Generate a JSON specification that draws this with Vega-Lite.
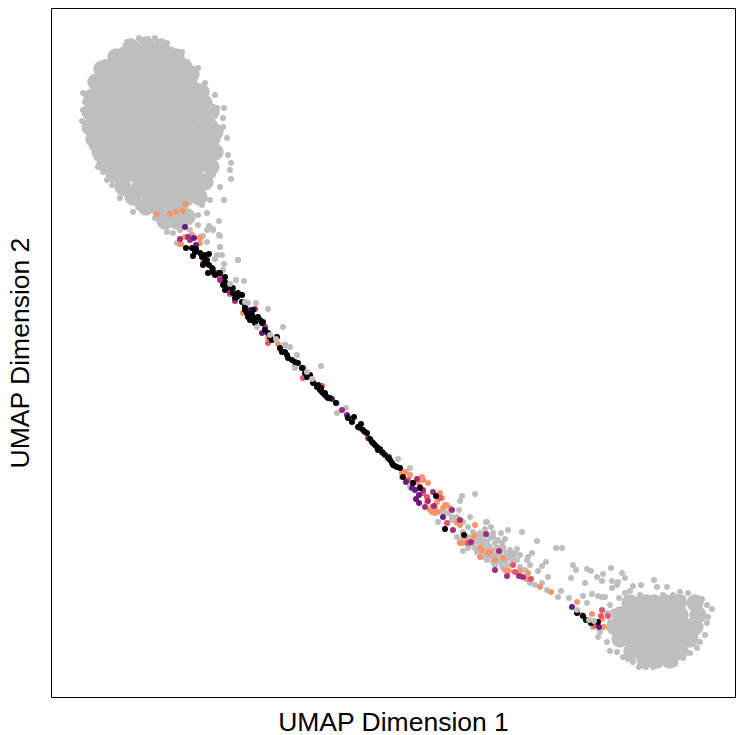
{"$schema":"https://vega.github.io/schema/vega-lite/v6.json","width":684,"height":689,"autosize":"none","padding":{"left":51,"top":8,"right":1,"bottom":38},"background":"white","config":{"view":{"stroke":"black","strokeWidth":1},"font":"Liberation Sans"},
"datasets":{"core":[
{"x":8.0,"y":65.0},{"x":9.5,"y":65.2},{"x":11.0,"y":65.0},{"x":6.5,"y":64.0},{"x":12.5,"y":64.0},{"x":3.9,"y":58.5},{"x":3.9,"y":57.0},{"x":4.1,"y":60.0},{"x":4.3,"y":55.8},{"x":4.5,"y":61.5},{"x":5.1,"y":62.8},{"x":4.9,"y":54.5},{"x":5.4,"y":53.3},{"x":6.3,"y":52.3},{"x":7.2,"y":51.0},{"x":8.2,"y":50.0},{"x":9.5,"y":49.0},{"x":11.4,"y":47.6},{"x":12.6,"y":47.6},{"x":13.6,"y":48.0},{"x":14.8,"y":50.0},{"x":15.4,"y":51.5},{"x":16.0,"y":53.0},{"x":16.4,"y":54.5},{"x":16.4,"y":56.5},{"x":16.0,"y":58.5},{"x":15.0,"y":60.5},{"x":14.0,"y":62.3},
{"x":7.4,"y":64.2},{"x":8.6,"y":64.2},{"x":9.8,"y":64.2},{"x":11.0,"y":64.2},{"x":11.9,"y":64.2},
{"x":6.1,"y":63.0},{"x":7.3,"y":63.0},{"x":8.5,"y":63.0},{"x":9.7,"y":63.0},{"x":10.9,"y":63.0},{"x":12.1,"y":63.0},{"x":13.3,"y":63.0},
{"x":5.4,"y":61.8},{"x":6.6,"y":61.8},{"x":7.8,"y":61.8},{"x":9.0,"y":61.8},{"x":10.2,"y":61.8},{"x":11.4,"y":61.8},{"x":12.6,"y":61.8},{"x":13.8,"y":61.8},
{"x":4.9,"y":60.6},{"x":6.1,"y":60.6},{"x":7.3,"y":60.6},{"x":8.5,"y":60.6},{"x":9.7,"y":60.6},{"x":10.9,"y":60.6},{"x":12.1,"y":60.6},{"x":13.3,"y":60.6},{"x":14.5,"y":60.6},
{"x":4.7,"y":59.4},{"x":5.9,"y":59.4},{"x":7.1,"y":59.4},{"x":8.3,"y":59.4},{"x":9.5,"y":59.4},{"x":10.7,"y":59.4},{"x":11.9,"y":59.4},{"x":13.1,"y":59.4},{"x":14.3,"y":59.4},{"x":15.3,"y":59.4},
{"x":4.6,"y":58.2},{"x":5.8,"y":58.2},{"x":7.0,"y":58.2},{"x":8.2,"y":58.2},{"x":9.4,"y":58.2},{"x":10.6,"y":58.2},{"x":11.8,"y":58.2},{"x":13.0,"y":58.2},{"x":14.2,"y":58.2},{"x":15.6,"y":58.2},
{"x":4.6,"y":57.0},{"x":5.8,"y":57.0},{"x":7.0,"y":57.0},{"x":8.2,"y":57.0},{"x":9.4,"y":57.0},{"x":10.6,"y":57.0},{"x":11.8,"y":57.0},{"x":13.0,"y":57.0},{"x":14.2,"y":57.0},{"x":15.4,"y":57.0},{"x":15.9,"y":57.0},
{"x":4.9,"y":55.8},{"x":6.1,"y":55.8},{"x":7.3,"y":55.8},{"x":8.5,"y":55.8},{"x":9.7,"y":55.8},{"x":10.9,"y":55.8},{"x":12.1,"y":55.8},{"x":13.3,"y":55.8},{"x":14.5,"y":55.8},{"x":15.7,"y":55.8},{"x":16.1,"y":55.8},
{"x":5.4,"y":54.6},{"x":6.6,"y":54.6},{"x":7.8,"y":54.6},{"x":9.0,"y":54.6},{"x":10.2,"y":54.6},{"x":11.4,"y":54.6},{"x":12.6,"y":54.6},{"x":13.8,"y":54.6},{"x":15.0,"y":54.6},{"x":15.9,"y":54.6},
{"x":6.1,"y":53.4},{"x":7.3,"y":53.4},{"x":8.5,"y":53.4},{"x":9.7,"y":53.4},{"x":10.9,"y":53.4},{"x":12.1,"y":53.4},{"x":13.3,"y":53.4},{"x":14.5,"y":53.4},{"x":15.4,"y":53.4},
{"x":7.4,"y":52.2},{"x":8.6,"y":52.2},{"x":9.8,"y":52.2},{"x":11.0,"y":52.2},{"x":12.2,"y":52.2},{"x":13.4,"y":52.2},{"x":14.4,"y":52.2},
{"x":8.9,"y":51.0},{"x":10.1,"y":51.0},{"x":11.3,"y":51.0},{"x":12.5,"y":51.0},{"x":13.9,"y":51.0},
{"x":9.9,"y":49.8},{"x":11.1,"y":49.8},{"x":12.3,"y":49.8},{"x":13.4,"y":49.8},
{"x":10.9,"y":48.7},{"x":12.0,"y":48.7},{"x":12.9,"y":48.7},
{"x":57.9,"y":9.4},{"x":59.1,"y":9.4},{"x":60.3,"y":9.4},{"x":61.5,"y":9.4},{"x":62.7,"y":9.4},{"x":64.4,"y":9.4},
{"x":56.9,"y":8.2},{"x":58.1,"y":8.2},{"x":59.3,"y":8.2},{"x":60.5,"y":8.2},{"x":61.7,"y":8.2},{"x":62.9,"y":8.2},{"x":64.7,"y":8.2},
{"x":56.4,"y":7.0},{"x":57.6,"y":7.0},{"x":58.8,"y":7.0},{"x":60.0,"y":7.0},{"x":61.2,"y":7.0},{"x":62.4,"y":7.0},{"x":63.6,"y":7.0},{"x":64.4,"y":7.0},
{"x":56.9,"y":5.8},{"x":58.1,"y":5.8},{"x":59.3,"y":5.8},{"x":60.5,"y":5.8},{"x":61.7,"y":5.8},{"x":62.9,"y":5.8},{"x":63.9,"y":5.8},
{"x":58.1,"y":4.6},{"x":59.3,"y":4.6},{"x":60.5,"y":4.6},{"x":61.7,"y":4.6},{"x":62.9,"y":4.6},
{"x":59.4,"y":3.7},{"x":60.6,"y":3.7},{"x":61.9,"y":3.7}
],
"cells":[
{"x":8.8,"y":65.9,"g":"grey"},{"x":7.6,"y":65.5,"g":"grey"},{"x":10.4,"y":65.9,"g":"grey"},{"x":9.7,"y":65.8,"g":"grey"},{"x":11.6,"y":65.4,"g":"grey"},{"x":13.1,"y":64.5,"g":"grey"},{"x":13.6,"y":63.5,"g":"grey"},{"x":14.7,"y":62.9,"g":"grey"},{"x":15.4,"y":61.4,"g":"grey"},{"x":16.4,"y":60.2,"g":"grey"},{"x":16.6,"y":58.9,"g":"grey"},{"x":17.3,"y":58.9,"g":"grey"},{"x":17.2,"y":57.9,"g":"grey"},{"x":17.2,"y":57.0,"g":"grey"},{"x":17.6,"y":55.9,"g":"grey"},{"x":17.7,"y":54.2,"g":"grey"},{"x":18.0,"y":53.4,"g":"grey"},{"x":17.9,"y":52.7,"g":"grey"},{"x":18.0,"y":51.8,"g":"grey"},{"x":16.2,"y":52.2,"g":"grey"},{"x":16.9,"y":51.0,"g":"grey"},{"x":17.3,"y":49.7,"g":"grey"},{"x":15.9,"y":49.7,"g":"grey"},{"x":15.1,"y":49.2,"g":"grey"},{"x":14.7,"y":48.2,"g":"grey"},{"x":15.6,"y":48.4,"g":"grey"},{"x":16.2,"y":46.7,"g":"grey"},{"x":16.9,"y":46.1,"g":"grey"},{"x":16.9,"y":45.0,"g":"grey"},{"x":18.7,"y":43.7,"g":"grey"},
{"x":3.2,"y":60.4,"g":"grey"},{"x":3.4,"y":59.5,"g":"grey"},{"x":3.2,"y":58.7,"g":"grey"},{"x":3.1,"y":57.6,"g":"grey"},{"x":3.6,"y":56.7,"g":"grey"},{"x":4.1,"y":55.0,"g":"grey"},{"x":4.6,"y":53.9,"g":"grey"},{"x":4.7,"y":53.0,"g":"grey"},{"x":5.2,"y":52.5,"g":"grey"},{"x":5.6,"y":51.7,"g":"grey"},{"x":6.1,"y":51.2,"g":"grey"},{"x":6.9,"y":49.9,"g":"grey"},{"x":8.2,"y":48.5,"g":"grey"},{"x":8.7,"y":49.0,"g":"grey"},{"x":10.4,"y":47.9,"g":"grey"},{"x":11.6,"y":46.5,"g":"grey"},{"x":5.4,"y":63.5,"g":"grey"},{"x":4.4,"y":61.9,"g":"grey"},{"x":6.2,"y":64.2,"g":"grey"},{"x":7.1,"y":64.7,"g":"grey"},
{"x":12.9,"y":46.7,"g":"grey"},{"x":12.2,"y":46.4,"g":"grey"},{"x":13.9,"y":46.7,"g":"grey"},{"x":14.7,"y":47.2,"g":"grey"},{"x":15.6,"y":46.7,"g":"grey"},{"x":11.9,"y":47.3,"g":"grey"},{"x":12.8,"y":47.5,"g":"grey"},{"x":13.7,"y":47.6,"g":"grey"},
{"x":43.5,"y":17.5,"g":"grey"},{"x":44.0,"y":17.0,"g":"grey"},{"x":43.4,"y":16.8,"g":"grey"},{"x":44.2,"y":16.4,"g":"grey"},{"x":45.0,"y":16.4,"g":"grey"},{"x":45.7,"y":16.7,"g":"grey"},{"x":47.1,"y":16.5,"g":"grey"},{"x":48.6,"y":15.6,"g":"grey"},{"x":50.5,"y":14.9,"g":"grey"},{"x":51.1,"y":14.9,"g":"grey"},{"x":45.4,"y":15.8,"g":"grey"},{"x":45.1,"y":15.4,"g":"grey"},{"x":43.9,"y":15.9,"g":"grey"},{"x":43.2,"y":15.7,"g":"grey"},{"x":42.9,"y":15.0,"g":"grey"},{"x":43.9,"y":15.0,"g":"grey"},{"x":44.6,"y":14.9,"g":"grey"},{"x":45.9,"y":14.7,"g":"grey"},{"x":46.6,"y":14.8,"g":"grey"},{"x":46.9,"y":14.2,"g":"grey"},{"x":46.2,"y":14.0,"g":"grey"},{"x":45.6,"y":14.4,"g":"grey"},{"x":44.9,"y":14.4,"g":"grey"},{"x":44.2,"y":14.0,"g":"grey"},{"x":43.6,"y":13.7,"g":"grey"},{"x":44.9,"y":13.5,"g":"grey"},{"x":45.7,"y":13.2,"g":"grey"},{"x":46.2,"y":13.2,"g":"grey"},{"x":47.6,"y":13.7,"g":"grey"},{"x":48.1,"y":14.4,"g":"grey"},{"x":47.7,"y":14.0,"g":"grey"},{"x":47.9,"y":13.2,"g":"grey"},{"x":48.7,"y":12.6,"g":"grey"},{"x":49.1,"y":13.1,"g":"grey"},{"x":49.5,"y":13.5,"g":"grey"},{"x":49.7,"y":12.0,"g":"grey"},{"x":47.9,"y":11.4,"g":"grey"},{"x":48.4,"y":11.2,"g":"grey"},{"x":49.1,"y":11.4,"g":"grey"},{"x":49.6,"y":10.7,"g":"grey"},{"x":51.0,"y":10.6,"g":"grey"},{"x":50.7,"y":10.0,"g":"grey"},{"x":51.8,"y":9.9,"g":"grey"},{"x":52.2,"y":13.2,"g":"grey"},{"x":52.5,"y":12.7,"g":"grey"},{"x":52.0,"y":11.9,"g":"grey"},{"x":53.4,"y":11.4,"g":"grey"},{"x":53.6,"y":12.8,"g":"grey"},{"x":54.0,"y":12.6,"g":"grey"},{"x":54.6,"y":12.0,"g":"grey"},{"x":55.2,"y":12.3,"g":"grey"},{"x":55.1,"y":11.6,"g":"grey"},{"x":56.0,"y":12.9,"g":"grey"},{"x":57.1,"y":12.4,"g":"grey"},{"x":56.1,"y":11.6,"g":"grey"},{"x":56.7,"y":11.5,"g":"grey"},{"x":57.4,"y":11.9,"g":"grey"},{"x":56.1,"y":10.9,"g":"grey"},{"x":56.6,"y":11.2,"g":"grey"},{"x":58.2,"y":11.1,"g":"grey"},{"x":59.0,"y":11.2,"g":"grey"},{"x":60.3,"y":11.7,"g":"grey"},{"x":60.6,"y":11.0,"g":"grey"},{"x":61.6,"y":11.0,"g":"grey"},{"x":62.9,"y":10.5,"g":"grey"},{"x":63.7,"y":10.4,"g":"grey"},{"x":57.9,"y":10.6,"g":"grey"},{"x":57.4,"y":10.4,"g":"grey"},{"x":56.8,"y":9.9,"g":"grey"},{"x":57.5,"y":9.6,"g":"grey"},{"x":55.9,"y":9.2,"g":"grey"},{"x":55.1,"y":10.0,"g":"grey"},{"x":55.4,"y":10.0,"g":"grey"},{"x":53.2,"y":10.1,"g":"grey"},{"x":54.1,"y":10.3,"g":"grey"},{"x":53.6,"y":9.4,"g":"grey"},{"x":54.7,"y":10.1,"g":"grey"},{"x":56.2,"y":8.5,"g":"grey"},{"x":55.6,"y":8.4,"g":"grey"},{"x":58.2,"y":9.7,"g":"grey"},{"x":58.9,"y":10.2,"g":"grey"},{"x":59.6,"y":10.0,"g":"grey"},{"x":61.2,"y":10.2,"g":"grey"},{"x":62.2,"y":10.2,"g":"grey"},{"x":63.2,"y":9.9,"g":"grey"},{"x":64.4,"y":9.9,"g":"grey"},{"x":65.1,"y":9.8,"g":"grey"},{"x":65.6,"y":9.2,"g":"grey"},{"x":66.1,"y":8.8,"g":"grey"},{"x":65.7,"y":8.0,"g":"grey"},{"x":65.6,"y":7.4,"g":"grey"},{"x":65.4,"y":6.2,"g":"grey"},{"x":64.9,"y":5.5,"g":"grey"},{"x":64.6,"y":4.9,"g":"grey"},{"x":63.9,"y":4.4,"g":"grey"},{"x":63.2,"y":3.9,"g":"grey"},{"x":62.4,"y":3.3,"g":"grey"},{"x":61.6,"y":3.2,"g":"grey"},{"x":60.2,"y":3.0,"g":"grey"},{"x":59.5,"y":3.0,"g":"grey"},{"x":58.8,"y":3.0,"g":"grey"},{"x":58.2,"y":3.5,"g":"grey"},{"x":57.7,"y":3.8,"g":"grey"},{"x":57.2,"y":4.0,"g":"grey"},{"x":56.6,"y":4.5,"g":"grey"},{"x":55.9,"y":4.6,"g":"grey"},{"x":55.6,"y":5.5,"g":"grey"},{"x":54.7,"y":6.0,"g":"grey"},{"x":54.9,"y":6.5,"g":"grey"},{"x":53.9,"y":7.5,"g":"grey"},{"x":55.2,"y":7.0,"g":"grey"},{"x":55.9,"y":7.5,"g":"grey"},
{"x":45.2,"y":15.0,"g":"grey"},{"x":46.1,"y":14.4,"g":"grey"},{"x":46.4,"y":14.4,"g":"grey"},{"x":45.2,"y":14.0,"g":"grey"},{"x":44.7,"y":13.7,"g":"grey"},{"x":45.4,"y":13.5,"g":"grey"},{"x":43.9,"y":14.4,"g":"grey"},{"x":43.6,"y":15.5,"g":"grey"},{"x":44.2,"y":14.7,"g":"grey"},{"x":44.9,"y":14.9,"g":"grey"},{"x":43.1,"y":15.9,"g":"grey"},{"x":42.6,"y":14.5,"g":"grey"},{"x":43.1,"y":14.2,"g":"grey"},{"x":44.4,"y":13.2,"g":"grey"},
{"x":39.2,"y":18.5,"g":"grey"},{"x":39.7,"y":18.4,"g":"grey"},{"x":40.1,"y":17.7,"g":"grey"},{"x":39.6,"y":17.4,"g":"grey"},{"x":40.6,"y":18.0,"g":"grey"},{"x":41.2,"y":17.5,"g":"grey"},{"x":41.7,"y":17.0,"g":"grey"},{"x":42.2,"y":16.5,"g":"grey"},{"x":41.2,"y":16.5,"g":"grey"},{"x":42.6,"y":16.2,"g":"grey"},{"x":42.9,"y":15.9,"g":"grey"},{"x":41.7,"y":16.0,"g":"grey"},{"x":43.4,"y":15.4,"g":"grey"},{"x":44.2,"y":16.0,"g":"grey"},{"x":43.6,"y":16.2,"g":"grey"},{"x":42.2,"y":15.4,"g":"grey"},{"x":42.6,"y":14.7,"g":"grey"},{"x":43.6,"y":14.7,"g":"grey"},
{"x":42.2,"y":15.7,"g":"grey"},{"x":42.6,"y":16.0,"g":"grey"},{"x":42.7,"y":15.5,"g":"grey"},{"x":43.1,"y":15.4,"g":"grey"},{"x":43.6,"y":15.2,"g":"grey"},{"x":42.4,"y":14.9,"g":"grey"},{"x":43.4,"y":14.5,"g":"grey"},{"x":44.1,"y":14.5,"g":"grey"},{"x":44.6,"y":14.2,"g":"grey"},{"x":45.2,"y":14.7,"g":"grey"},{"x":43.7,"y":14.0,"g":"grey"},{"x":44.2,"y":13.5,"g":"grey"},{"x":45.6,"y":13.9,"g":"grey"},{"x":46.1,"y":13.7,"g":"grey"},{"x":45.1,"y":13.0,"g":"grey"},{"x":46.6,"y":13.7,"g":"grey"},{"x":46.9,"y":13.0,"g":"grey"},{"x":47.4,"y":12.7,"g":"grey"},{"x":43.2,"y":14.0,"g":"grey"},{"x":42.9,"y":16.4,"g":"grey"},{"x":44.4,"y":15.4,"g":"grey"},{"x":44.7,"y":15.7,"g":"grey"},{"x":45.9,"y":14.0,"g":"grey"},{"x":41.9,"y":15.2,"g":"grey"},{"x":41.6,"y":15.9,"g":"grey"},{"x":41.2,"y":16.4,"g":"grey"},{"x":41.7,"y":14.9,"g":"grey"},{"x":41.4,"y":15.4,"g":"grey"},{"x":40.9,"y":15.7,"g":"grey"},{"x":40.6,"y":16.0,"g":"grey"},
{"x":28.6,"y":28.4,"g":"grey"},{"x":28.6,"y":29.4,"g":"grey"},{"x":29.5,"y":28.9,"g":"grey"},{"x":34.7,"y":23.8,"g":"grey"},{"x":35.9,"y":22.9,"g":"grey"},{"x":35.9,"y":21.0,"g":"grey"},{"x":41.1,"y":20.1,"g":"grey"},{"x":42.4,"y":20.3,"g":"grey"},{"x":40.9,"y":19.6,"g":"grey"},{"x":40.8,"y":18.7,"g":"grey"},{"x":40.1,"y":18.0,"g":"grey"},{"x":39.6,"y":19.2,"g":"grey"},{"x":38.7,"y":17.5,"g":"grey"},{"x":41.9,"y":18.0,"g":"grey"},{"x":43.6,"y":17.5,"g":"grey"},{"x":41.2,"y":14.6,"g":"grey"},{"x":40.6,"y":17.4,"g":"grey"},
{"x":12.6,"y":45.4,"g":"grey"},{"x":14.9,"y":46.0,"g":"grey"},{"x":15.2,"y":46.1,"g":"grey"},{"x":15.6,"y":45.5,"g":"grey"},{"x":16.8,"y":46.2,"g":"grey"},{"x":16.9,"y":45.0,"g":"grey"},{"x":16.6,"y":44.2,"g":"grey"},{"x":17.1,"y":44.2,"g":"grey"},{"x":16.4,"y":43.8,"g":"grey"},{"x":17.3,"y":43.3,"g":"grey"},{"x":17.2,"y":42.7,"g":"grey"},{"x":18.7,"y":43.7,"g":"grey"},{"x":18.5,"y":41.7,"g":"grey"},{"x":19.3,"y":41.6,"g":"grey"},{"x":20.5,"y":39.4,"g":"grey"},{"x":21.7,"y":38.8,"g":"grey"},{"x":23.2,"y":37.0,"g":"grey"},{"x":24.6,"y":34.2,"g":"grey"},{"x":27.0,"y":33.1,"g":"grey"},{"x":15.8,"y":47.1,"g":"grey"},{"x":16.2,"y":46.8,"g":"grey"},{"x":16.8,"y":47.6,"g":"grey"},
{"x":13.4,"y":49.3,"g":"orange"},{"x":13.2,"y":48.6,"g":"orange"},{"x":10.6,"y":48.3,"g":"orange"},{"x":12.5,"y":48.5,"g":"orange"},{"x":11.9,"y":48.3,"g":"orange"},{"x":13.4,"y":46.0,"g":"orange"},{"x":13.0,"y":45.3,"g":"orange"},{"x":14.9,"y":45.9,"g":"orange"},{"x":12.9,"y":45.3,"g":"orange"},{"x":16.2,"y":42.4,"g":"orange"},{"x":19.1,"y":40.2,"g":"orange"},{"x":22.7,"y":35.3,"g":"orange"},{"x":19.2,"y":38.4,"g":"orange"},{"x":21.7,"y":35.9,"g":"orange"},{"x":14.1,"y":46.2,"g":"orange"},{"x":14.9,"y":45.4,"g":"orange"},{"x":22.9,"y":34.8,"g":"orange"},
{"x":35.2,"y":22.5,"g":"orange"},{"x":35.1,"y":22.0,"g":"orange"},{"x":35.9,"y":22.2,"g":"orange"},{"x":37.1,"y":22.0,"g":"orange"},{"x":36.7,"y":21.5,"g":"orange"},{"x":37.7,"y":21.4,"g":"orange"},{"x":38.9,"y":20.4,"g":"orange"},{"x":39.1,"y":19.9,"g":"orange"},{"x":38.1,"y":19.0,"g":"orange"},{"x":38.4,"y":18.4,"g":"orange"},{"x":37.9,"y":18.7,"g":"orange"},{"x":38.6,"y":19.5,"g":"orange"},{"x":39.4,"y":19.2,"g":"orange"},{"x":40.9,"y":17.2,"g":"orange"},{"x":41.1,"y":15.4,"g":"orange"},{"x":43.1,"y":14.7,"g":"orange"},{"x":43.9,"y":14.5,"g":"orange"},{"x":42.4,"y":17.2,"g":"orange"},{"x":41.4,"y":16.0,"g":"orange"},{"x":37.6,"y":19.5,"g":"orange"},{"x":39.9,"y":18.9,"g":"orange"},
{"x":38.1,"y":18.5,"g":"orange"},{"x":38.7,"y":18.5,"g":"orange"},{"x":38.4,"y":18.9,"g":"orange"},{"x":39.2,"y":18.9,"g":"orange"},{"x":38.7,"y":20.0,"g":"orange"},{"x":35.1,"y":22.4,"g":"orange"},{"x":35.5,"y":22.5,"g":"orange"},{"x":37.2,"y":21.7,"g":"orange"},{"x":40.6,"y":17.5,"g":"orange"},{"x":42.9,"y":14.9,"g":"orange"},{"x":43.7,"y":14.4,"g":"orange"},{"x":40.9,"y":15.4,"g":"orange"},
{"x":43.1,"y":14.8,"g":"orange"},{"x":43.9,"y":14.5,"g":"orange"},{"x":44.4,"y":13.7,"g":"orange"},{"x":42.9,"y":14.0,"g":"orange"},{"x":45.4,"y":12.7,"g":"orange"},{"x":45.8,"y":12.6,"g":"orange"},{"x":46.9,"y":12.6,"g":"orange"},{"x":47.7,"y":12.4,"g":"orange"},{"x":47.6,"y":11.8,"g":"orange"},{"x":48.9,"y":11.0,"g":"orange"},{"x":50.0,"y":10.5,"g":"orange"},{"x":52.6,"y":9.5,"g":"orange"},{"x":54.1,"y":8.3,"g":"orange"},{"x":53.1,"y":8.2,"g":"orange"},{"x":55.1,"y":7.8,"g":"orange"},{"x":54.2,"y":7.0,"g":"orange"},{"x":55.3,"y":7.0,"g":"orange"},{"x":42.3,"y":16.1,"g":"orange"},{"x":45.2,"y":13.9,"g":"orange"},
{"x":15.2,"y":43.4,"g":"pink"},{"x":21.7,"y":35.4,"g":"pink"},{"x":24.4,"y":33.0,"g":"pink"},{"x":17.9,"y":40.3,"g":"pink"},{"x":16.9,"y":42.0,"g":"pink"},{"x":26.8,"y":31.1,"g":"pink"},{"x":25.2,"y":31.9,"g":"pink"},{"x":35.7,"y":21.7,"g":"pink"},{"x":37.6,"y":20.0,"g":"pink"},{"x":38.9,"y":19.9,"g":"pink"},{"x":39.6,"y":17.4,"g":"pink"},{"x":41.7,"y":15.4,"g":"pink"},{"x":37.2,"y":20.4,"g":"pink"},{"x":27.1,"y":31.1,"g":"pink"},{"x":46.2,"y":13.2,"g":"pink"},{"x":46.4,"y":12.5,"g":"pink"},{"x":48.0,"y":11.8,"g":"pink"},{"x":55.1,"y":8.7,"g":"pink"},{"x":55.0,"y":8.1,"g":"pink"},{"x":55.7,"y":8.1,"g":"pink"},{"x":54.4,"y":7.2,"g":"pink"},
{"x":13.7,"y":46.0,"g":"magenta"},{"x":16.2,"y":42.8,"g":"magenta"},{"x":16.9,"y":41.7,"g":"magenta"},{"x":18.4,"y":39.6,"g":"magenta"},{"x":20.4,"y":38.8,"g":"magenta"},{"x":21.4,"y":37.0,"g":"magenta"},{"x":17.9,"y":40.5,"g":"magenta"},{"x":26.2,"y":31.5,"g":"magenta"},{"x":23.4,"y":35.2,"g":"magenta"},{"x":13.9,"y":45.7,"g":"magenta"},{"x":12.9,"y":45.8,"g":"magenta"},{"x":29.1,"y":28.7,"g":"magenta"},{"x":31.7,"y":25.9,"g":"magenta"},{"x":36.6,"y":21.8,"g":"magenta"},{"x":37.4,"y":19.0,"g":"magenta"},{"x":38.2,"y":20.5,"g":"magenta"},{"x":38.3,"y":19.1,"g":"magenta"},{"x":37.7,"y":19.6,"g":"magenta"},{"x":40.1,"y":18.7,"g":"magenta"},{"x":40.9,"y":17.7,"g":"magenta"},{"x":40.2,"y":16.7,"g":"magenta"},{"x":43.5,"y":16.3,"g":"magenta"},{"x":42.0,"y":15.5,"g":"magenta"},{"x":44.8,"y":14.6,"g":"magenta"},{"x":44.4,"y":12.7,"g":"magenta"},{"x":45.6,"y":12.1,"g":"magenta"},{"x":47.2,"y":12.0,"g":"magenta"},{"x":46.8,"y":12.1,"g":"magenta"},{"x":37.2,"y":20.7,"g":"magenta"},{"x":36.9,"y":21.0,"g":"magenta"},
{"x":13.4,"y":47.0,"g":"purple"},{"x":14.3,"y":45.9,"g":"purple"},{"x":14.5,"y":45.2,"g":"purple"},{"x":16.7,"y":42.4,"g":"purple"},{"x":17.4,"y":41.2,"g":"purple"},{"x":18.2,"y":40.9,"g":"purple"},{"x":21.1,"y":36.4,"g":"purple"},{"x":19.9,"y":38.7,"g":"purple"},{"x":20.5,"y":37.9,"g":"purple"},{"x":25.2,"y":32.9,"g":"purple"},{"x":29.6,"y":28.2,"g":"purple"},{"x":30.9,"y":26.9,"g":"purple"},{"x":33.8,"y":24.0,"g":"purple"},{"x":28.1,"y":29.8,"g":"purple"},{"x":36.4,"y":20.7,"g":"purple"},{"x":36.8,"y":20.2,"g":"purple"},{"x":36.5,"y":19.8,"g":"purple"},{"x":36.8,"y":19.4,"g":"purple"},{"x":39.2,"y":18.0,"g":"purple"},{"x":35.5,"y":21.5,"g":"purple"},{"x":52.1,"y":9.0,"g":"purple"},{"x":54.8,"y":7.0,"g":"purple"},{"x":36.1,"y":20.9,"g":"purple"},{"x":36.2,"y":21.4,"g":"purple"},
{"x":13.5,"y":44.9,"g":"black"},{"x":14.1,"y":44.9,"g":"black"},{"x":14.4,"y":44.5,"g":"black"},{"x":14.2,"y":44.1,"g":"black"},{"x":14.9,"y":44.4,"g":"black"},{"x":15.4,"y":44.2,"g":"black"},{"x":15.8,"y":44.3,"g":"black"},{"x":15.6,"y":43.7,"g":"black"},{"x":15.2,"y":43.2,"g":"black"},{"x":15.8,"y":43.2,"g":"black"},{"x":15.7,"y":42.4,"g":"black"},{"x":16.2,"y":42.5,"g":"black"},{"x":16.4,"y":42.2,"g":"black"},{"x":17.4,"y":42.0,"g":"black"},{"x":17.2,"y":41.2,"g":"black"},{"x":17.4,"y":40.7,"g":"black"},{"x":18.1,"y":40.9,"g":"black"},{"x":18.2,"y":40.4,"g":"black"},{"x":18.7,"y":40.4,"g":"black"},{"x":18.4,"y":39.9,"g":"black"},{"x":19.4,"y":39.0,"g":"black"},{"x":19.6,"y":38.4,"g":"black"},{"x":19.9,"y":37.7,"g":"black"},{"x":20.1,"y":38.2,"g":"black"},{"x":20.6,"y":37.9,"g":"black"},{"x":20.9,"y":37.7,"g":"black"},{"x":20.4,"y":37.4,"g":"black"},{"x":21.2,"y":37.5,"g":"black"},{"x":21.7,"y":36.4,"g":"black"},{"x":22.1,"y":35.7,"g":"black"},{"x":22.6,"y":36.0,"g":"black"},{"x":22.9,"y":34.9,"g":"black"},{"x":23.4,"y":34.5,"g":"black"},{"x":23.7,"y":33.9,"g":"black"},{"x":24.1,"y":33.7,"g":"black"},{"x":24.7,"y":33.4,"g":"black"},{"x":25.1,"y":32.9,"g":"black"},{"x":25.6,"y":32.0,"g":"black"},{"x":25.9,"y":32.2,"g":"black"},{"x":26.6,"y":31.0,"g":"black"},{"x":26.9,"y":30.7,"g":"black"},{"x":27.2,"y":30.4,"g":"black"},{"x":27.6,"y":30.0,"g":"black"},{"x":27.9,"y":29.9,"g":"black"},{"x":19.1,"y":40.2,"g":"black"},{"x":20.2,"y":38.7,"g":"black"},
{"x":14.5,"y":44.8,"g":"black"},{"x":15.1,"y":44.0,"g":"black"},{"x":15.4,"y":43.5,"g":"black"},{"x":16.1,"y":42.9,"g":"black"},{"x":16.9,"y":42.4,"g":"black"},{"x":17.4,"y":41.5,"g":"black"},{"x":17.7,"y":41.0,"g":"black"},{"x":18.6,"y":40.0,"g":"black"},{"x":19.1,"y":39.5,"g":"black"},{"x":19.4,"y":38.7,"g":"black"},{"x":19.7,"y":38.0,"g":"black"},{"x":20.2,"y":37.7,"g":"black"},{"x":20.7,"y":38.0,"g":"black"},{"x":21.1,"y":37.4,"g":"black"},{"x":21.4,"y":36.7,"g":"black"},{"x":21.9,"y":36.0,"g":"black"},{"x":23.1,"y":34.5,"g":"black"},{"x":23.6,"y":34.2,"g":"black"},{"x":24.4,"y":33.5,"g":"black"},{"x":25.4,"y":32.4,"g":"black"},{"x":26.2,"y":31.4,"g":"black"},{"x":26.7,"y":31.2,"g":"black"},{"x":27.1,"y":30.5,"g":"black"},{"x":27.4,"y":30.4,"g":"black"},
{"x":27.0,"y":30.9,"g":"black"},{"x":28.5,"y":29.4,"g":"black"},{"x":29.7,"y":27.9,"g":"black"},{"x":30.3,"y":28.0,"g":"black"},{"x":31.0,"y":27.3,"g":"black"},{"x":30.7,"y":27.0,"g":"black"},{"x":31.6,"y":26.4,"g":"black"},{"x":31.9,"y":25.8,"g":"black"},{"x":32.4,"y":25.2,"g":"black"},{"x":32.7,"y":24.7,"g":"black"},{"x":33.2,"y":24.4,"g":"black"},{"x":33.7,"y":23.9,"g":"black"},{"x":34.1,"y":23.4,"g":"black"},{"x":34.4,"y":23.1,"g":"black"},{"x":34.9,"y":22.9,"g":"black"},{"x":30.1,"y":27.5,"g":"black"},{"x":31.2,"y":26.7,"g":"black"},{"x":32.1,"y":25.5,"g":"black"},{"x":33.1,"y":24.5,"g":"black"},{"x":35.2,"y":22.0,"g":"black"},{"x":36.2,"y":21.4,"g":"black"},{"x":38.5,"y":20.1,"g":"black"},{"x":39.4,"y":16.8,"g":"black"},{"x":41.3,"y":16.2,"g":"black"},{"x":36.9,"y":20.9,"g":"black"},{"x":52.6,"y":8.4,"g":"black"},{"x":53.2,"y":8.1,"g":"black"},{"x":53.5,"y":7.7,"g":"black"},{"x":54.0,"y":7.4,"g":"black"},{"x":54.7,"y":7.5,"g":"black"},
{"x":27.4,"y":30.2,"g":"black"},{"x":27.7,"y":29.9,"g":"black"},{"x":31.4,"y":26.5,"g":"black"},{"x":32.2,"y":25.4,"g":"black"},{"x":32.6,"y":25.0,"g":"black"},{"x":32.9,"y":24.8,"g":"black"},{"x":33.4,"y":24.2,"g":"black"},{"x":33.9,"y":23.7,"g":"black"},{"x":34.2,"y":23.2,"g":"black"},{"x":34.6,"y":23.0,"g":"black"},
{"x":19.4,"y":39.5,"g":"grey"},{"x":19.7,"y":39.4,"g":"grey"},{"x":20.6,"y":37.0,"g":"grey"},{"x":21.9,"y":36.2,"g":"grey"},{"x":22.5,"y":35.8,"g":"grey"},{"x":23.4,"y":35.2,"g":"grey"},{"x":23.9,"y":35.0,"g":"grey"},{"x":24.4,"y":32.9,"g":"grey"},{"x":25.6,"y":32.5,"g":"grey"},{"x":26.1,"y":31.8,"g":"grey"},{"x":17.9,"y":41.3,"g":"grey"},{"x":52.6,"y":8.7,"g":"grey"},{"x":53.8,"y":7.7,"g":"grey"},{"x":54.3,"y":7.6,"g":"grey"}
]},
"layer":[
{"data":{"name":"core"},"mark":{"type":"point","filled":true,"size":300,"opacity":1,"color":"#BEBEBE","strokeWidth":0},"encoding":{"x":{"field":"x","type":"quantitative","scale":{"domain":[0,68.4],"nice":false,"zero":false},"axis":{"title":"UMAP Dimension 1","ticks":false,"labels":false,"domain":false,"grid":false,"titleFontSize":26.5,"titleFontWeight":"normal","titleColor":"black","titlePadding":12,"titleFont":"Liberation Sans"}},"y":{"field":"y","type":"quantitative","scale":{"domain":[0,68.9],"nice":false,"zero":false},"axis":{"title":"UMAP Dimension 2","ticks":false,"labels":false,"domain":false,"grid":false,"titleFontSize":26.5,"titleFontWeight":"normal","titleColor":"black","titlePadding":17,"titleFont":"Liberation Sans"}}}},
{"data":{"name":"cells"},"mark":{"type":"point","filled":true,"size":36,"opacity":1,"strokeWidth":0},"encoding":{"x":{"field":"x","type":"quantitative"},"y":{"field":"y","type":"quantitative"},"color":{"field":"g","type":"nominal","legend":null,"scale":{"domain":["grey","black","purple","magenta","pink","orange"],"range":["#BEBEBE","#000004","#6A1B80","#A42C80","#E4556A","#FB9468"]}}}}
]}
